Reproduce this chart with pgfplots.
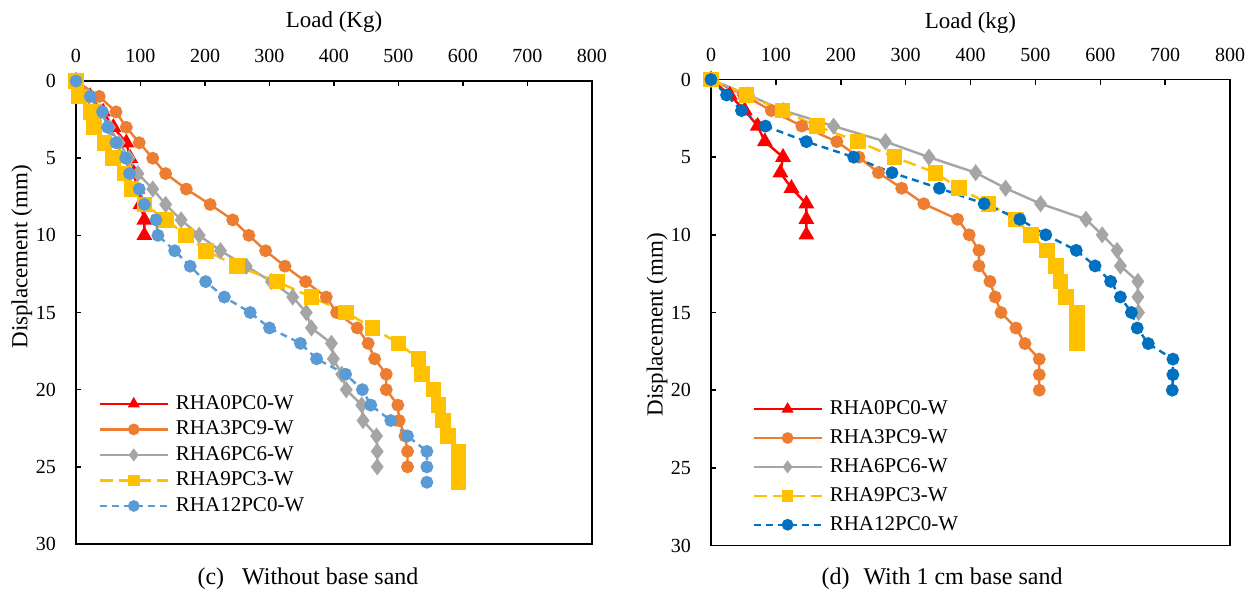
\documentclass[border=0pt]{standalone}
\usepackage{fontspec}
\setmainfont{Liberation Serif}
\usepackage{pgfplots}
\pgfplotsset{compat=1.18}

\definecolor{cRed}{HTML}{FF0000}
\definecolor{cOrange}{HTML}{ED7D31}
\definecolor{cGray}{HTML}{A5A5A5}
\definecolor{cYellow}{HTML}{FFC000}
\definecolor{cBlueL}{HTML}{5B9BD5}
\definecolor{cBlueD}{HTML}{0070C0}

\pgfplotsset{
  panel/.style={
    scale only axis, anchor=north west,
    xmin=0, xmax=800, ymin=0, ymax=30, y dir=reverse,
    xtick={0,100,...,800}, ytick={0,5,...,30},
    xtick pos=right, xticklabel pos=right, ytick pos=left,
    tick align=inside, major tick length=2.5pt,
    axis line style={line width=0.75pt},
    tick style={line width=0.75pt, black},
    ticklabel style={font=\fontsize{10}{12}\selectfont},
    /pgf/number format/assume math mode=true,
    xticklabel shift=5.5pt, yticklabel shift=6.5pt,
    label style={font=\fontsize{11.5}{13}\selectfont},
    xlabel style={anchor=base},
    ylabel style={anchor=center},
    clip=false,
    legend cell align=left,
    legend image code/.code={
      \draw[mark repeat=2, mark phase=2, #1, mark size=2.3pt]
        plot coordinates {(0pt,0pt) (17pt,0pt) (34pt,0pt)};},
    legend style={draw=none, fill=none, anchor=north west, inner sep=0pt,
      font=\fontsize{10.5}{12}\selectfont, column sep=3pt,
      nodes={inner sep=0.5pt}},
  },
  sRed/.style={color=cRed, line width=1.2pt, mark=triangle*, mark size=3.4pt},
  sOrange/.style={color=cOrange, line width=1.2pt, mark=*, mark size=2.6pt},
  sGray/.style={color=cGray, line width=1.2pt, mark=diamond*, mark size=3.3pt},
  sYellow/.style={color=cYellow, line width=1.2pt, mark=square*, mark size=3.3pt,
    dash pattern=on 6.5pt off 3pt, mark options={solid}},
  sBlue/.style={line width=1.2pt, mark=*, mark size=2.6pt,
    dash pattern=on 3.5pt off 2.5pt, mark options={solid}},
}

\begin{document}
\begin{tikzpicture}
\useasboundingbox[fill=white] (0pt,0pt) rectangle (626pt,-294.5pt);

% (c) without base sand
\begin{axis}[panel,
  at={(38pt,-40.5pt)}, width=258pt, height=231.5pt,
  xlabel={Load (Kg)}, ylabel={Displacement (mm)},
  xlabel style={at={(axis description cs:0.5,1.1145)}},
  ylabel style={at={(axis description cs:-0.105,0.62)}},
  legend style={at={(axis description cs:0.043,0.324)}, row sep=3.3pt},
]
\addplot[sRed] coordinates {(0,0) (22,1) (42,2) (58,3) (78,4) (84,5) (90,6) (95,7) (100,8) (106,9) (106,10)};
\addlegendentry{RHA0PC0-W}
\addplot[sOrange] coordinates {(0,0) (36,1) (62,2) (78,3) (98,4) (119,5) (139,6) (171,7) (208,8) (243,9) (268,10) (294,11) (324,12) (356,13) (388,14) (404,15) (436,16) (453,17) (463,18) (481,19) (481,20) (499,21) (501,22) (510,23) (514,24) (514,25)};
\addlegendentry{RHA3PC9-W}
\addplot[sGray] coordinates {(0,0) (20,1) (38,2) (52,3) (67,4) (82,5) (96,6) (119,7) (139,8) (163,9) (191,10) (224,11) (264,12) (303,13) (336,14) (357,15) (365,16) (396,17) (399,18) (412,19) (419,20) (443,21) (445,22) (466,23) (467,24) (467,25)};
\addlegendentry{RHA6PC6-W}
\addplot[sYellow] coordinates {(0,0) (5,1) (23,2) (28,3) (44,4) (57,5) (75,6) (86,7) (106,8) (140,9) (171,10) (202,11) (250,12) (312,13) (365,14) (419,15) (460,16) (500,17) (531,18) (536,19) (554,20) (562,21) (569,22) (577,23) (593,24) (593,25) (593,26)};
\addlegendentry{RHA9PC3-W}
\addplot[sBlue, color=cBlueL] coordinates {(0,0) (22,1) (41,2) (49,3) (62,4) (77,5) (83,6) (98,7) (106,8) (124,9) (127,10) (153,11) (177,12) (201,13) (230,14) (270,15) (300,16) (348,17) (373,18) (418,19) (444,20) (457,21) (488,22) (514,23) (544,24) (544,25) (544,26)};
\addlegendentry{RHA12PC0-W}
\end{axis}

% (d) with 1 cm base sand
\begin{axis}[panel,
  at={(355.5pt,-39.75pt)}, width=259.5pt, height=233pt,
  xlabel={Load (kg)}, ylabel={Displacement (mm)},
  xlabel style={at={(axis description cs:0.5,1.1105)}},
  ylabel style={at={(axis description cs:-0.104,0.474)}},
  legend style={at={(axis description cs:0.079,0.314)}, row sep=5pt},
]
\addplot[sRed] coordinates {(0,0) (29,1) (52,2) (72,3) (83,4) (111,5) (107,6) (124,7) (147,8) (147,9) (147,10)};
\addlegendentry{RHA0PC0-W}
\addplot[sOrange] coordinates {(0,0) (50,1) (93,2) (140,3) (194,4) (228,5) (258,6) (294,7) (328,8) (380,9) (398,10) (413,11) (413,12) (430,13) (438,14) (447,15) (470,16) (484,17) (506,18) (506,19) (506,20)};
\addlegendentry{RHA3PC9-W}
\addplot[sGray] coordinates {(0,0) (58,1) (112,2) (189,3) (269,4) (336,5) (408,6) (454,7) (508,8) (578,9) (603,10) (626,11) (631,12) (658,13) (658,14) (659,15)};
\addlegendentry{RHA6PC6-W}
\addplot[sYellow] coordinates {(0,0) (55,1) (110,2) (163,3) (227,4) (283,5) (346,6) (382,7) (428,8) (470,9) (493,10) (518,11) (532,12) (539,13) (547,14) (564,15) (564,16) (564,17)};
\addlegendentry{RHA9PC3-W}
\addplot[sBlue, color=cBlueD] coordinates {(0,0) (24,1) (47,2) (84,3) (147,4) (220,5) (279,6) (352,7) (421,8) (476,9) (516,10) (563,11) (592,12) (616,13) (631,14) (648,15) (657,16) (674,17) (712,18) (712,19) (711,20)};
\addlegendentry{RHA12PC0-W}
\end{axis}

\node[anchor=base, font=\fontsize{12}{14}\selectfont] at (154pt,-292pt) {(c)\hspace{9pt}Without base sand};
\node[anchor=base, font=\fontsize{12}{14}\selectfont] at (471pt,-292pt) {(d)\hspace{7pt}With 1 cm base sand};
\end{tikzpicture}
\end{document}
